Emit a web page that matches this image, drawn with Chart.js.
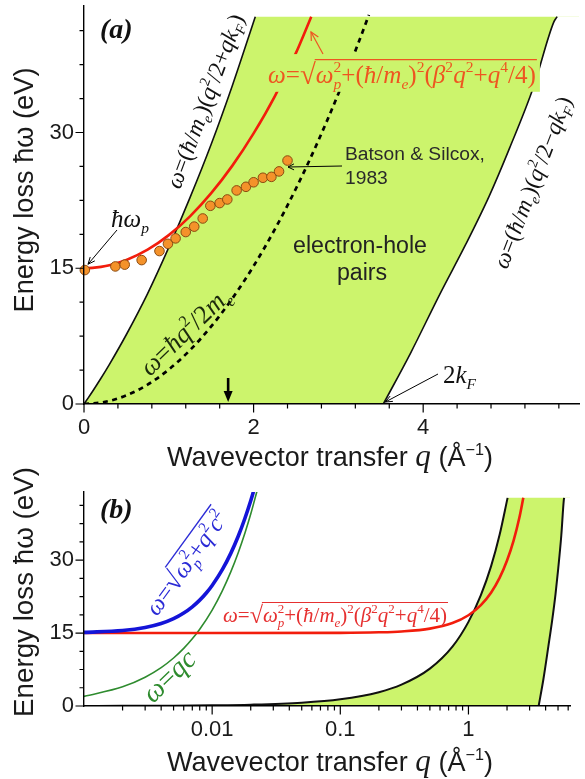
<!DOCTYPE html>
<html><head><meta charset="utf-8">
<script src="https://cdn.jsdelivr.net/npm/chart.js@4.4.1/dist/chart.umd.min.js"></script>
<style>
html,body{margin:0;padding:0;background:#fff;}
#wrap{position:relative;width:585px;height:779px;overflow:hidden;background:#fff;}
canvas{position:absolute;left:0;}
</style></head><body>
<div id="wrap">
<canvas id="ca" width="585" height="475" style="top:0"></canvas>
<canvas id="cb" width="585" height="339" style="top:440px"></canvas>
</div>
<script>
// ---------------- data ----------------
// lower-left edge of the electron-hole continuum  ω=(ħ/m)(q²/2+qkF)
const qPairLeft = [0.001,0.002,0.005,0.01,0.02,0.05,0.1,0.2,0.3,0.5,0.75,1.0,1.25,1.5,1.75,2.02];
const ePairLeft = [0.013,0.027,0.067,0.135,0.27,0.68,1.38,2.84,4.38,7.68,12.2,17.3,22.8,28.7,35.2,42.8];
// right edge of the continuum  ω=(ħ/m)(q²/2−qkF)
const qPairRight = [3.53,3.85,4.2,4.5,4.78,5.02,5.3,5.54,5.58];
const ePairRight = [0,5.6,12.2,17.6,23.0,28.3,35.0,42.2,42.8];
const eContinuumTop = 42.8;
// plasmon dispersion ω=√(ωp²+(ħ/m)²(β²q²+q⁴/4))
const qPlasmon = [0.001,0.01,0.1,0.2,0.3,0.5,0.75,1.0,1.25,1.5,1.75,2.0,2.25,2.5,2.68];
const ePlasmon = [15,15,15.04,15.15,15.33,15.91,17.05,18.66,20.74,23.3,26.34,29.9,34.0,38.8,42.8];
// free electron ω=ħq²/2m (dashed)
const qFree = [0,0.25,0.5,0.75,1.0,1.25,1.5,1.75,2.0,2.25,2.5,2.75,3.0,3.25,3.36];
const eFree = [0,0.24,0.95,2.14,3.81,5.95,8.57,11.67,15.24,19.29,23.81,28.81,34.29,40.24,43.0];
// Batson & Silcox 1983 measurements
const qBatson = [0.01,0.37,0.48,0.68,0.89,0.99,1.08,1.20,1.30,1.40,1.49,1.60,1.69,1.80,1.91,2.00,2.11,2.21,2.30,2.40];
const eBatson = [14.8,15.2,15.4,15.9,16.9,17.7,18.3,19.0,19.6,20.5,21.9,22.2,22.6,23.6,24.0,24.5,25.0,25.1,25.7,26.9];
// panel (b): light-plasmon ω=√(ωp²+q²c²) and light line ω=qc
const qLight = [0.001,0.002,0.003,0.004,0.005,0.006,0.007,0.008,0.009,0.01,0.012,0.014,0.016,0.018,0.02,0.021];
const eLight = [15.13,15.51,16.13,16.95,17.95,19.11,20.39,21.77,23.24,24.78,28.03,31.43,34.95,38.55,42.2,44.06];
const qPhoton = [0.001,0.002,0.003,0.004,0.005,0.006,0.007,0.008,0.01,0.012,0.014,0.016,0.018,0.02,0.0225];
const ePhoton = [1.97,3.95,5.92,7.89,9.87,11.84,13.81,15.78,19.73,23.68,27.62,31.57,35.51,39.46,44.4];
const qMarker = 1.7;
// ticks
const xMajorA = [0,2,4], xMajorLabelsA = ['0','2','4'];
const xMinorA = [0.4,0.8,1.2,1.6,2.4,2.8,3.2,3.6,4.4,4.8,5.2,5.6];
const yMajor = [0,15,30], yMajorLabels = ['0','15','30'];
const yMinor = [3.75,7.5,11.25,18.75,22.5,26.25,33.75,37.5,41.25];
const xMajorB = [0.01,0.1,1], xMajorLabelsB = ['0.01','0.1','1'];
const xMinorB = [0.002,0.003,0.004,0.005,0.006,0.007,0.008,0.009,0.02,0.03,0.04,0.05,0.06,0.07,0.08,0.09,0.2,0.3,0.4,0.5,0.6,0.7,0.8,0.9,2,3,4,5,6];

// ---------------- styling ----------------
const XMAX_A = 5.84, XMIN_B = 0.001, XMAX_B = 6.2, YMAX = 44;
const GREEN = '#ccf46c';
const SANS = '"Liberation Sans", Arial, sans-serif';
const SERIF = '"Liberation Serif", "Times New Roman", serif';

const xy = (xs, ys) => xs.map((x, i) => ({x, y: ys[i]}));

function fontStr(p, size) {
  const fam = p.fam === 'sans' ? SANS : SERIF;
  return (p.it ? 'italic ' : '') + (p.bold ? 'bold ' : '') + (size * (p.rel || 1)).toFixed(2) + 'px ' + fam;
}
function parseMath(s) {
  const out = []; let ov = false; let i = 0;
  const isL = c => /[A-Za-z\u0370-\u03FF\u0127]/.test(c);
  while (i < s.length) {
    const c = s[i];
    if (c === '[') { ov = true; i++; continue; }
    if (c === ']') { ov = false; i++; continue; }
    if (c === '^' || c === '_') {
      i++; let t;
      if (s[i] === '{') { const j = s.indexOf('}', i); t = s.slice(i + 1, j); i = j + 1; } else { t = s[i]; i++; }
      const prev = out[out.length - 1];
      const stack = c === '^' && prev && prev.dy > 0;
      out.push({t, it: isL(t[0]), rel: 0.62, dy: c === '^' ? -0.42 : 0.24, stack, ov});
      continue;
    }
    if (c === '√') { out.push({t: c, rel: 1.15, dy: 0.04, ov: false}); i++; continue; }
    out.push({t: c, it: isL(c), rel: 1, dy: 0, ov}); i++;
  }
  return out;
}
function layoutRich(ctx, parts, size) {
  let x = 0, prevStart = 0, prevW = 0; const items = [];
  for (const p of parts) {
    ctx.font = fontStr(p, size);
    const w = ctx.measureText(p.t).width;
    let px;
    if (p.stack) { px = prevStart; x = prevStart + Math.max(prevW, w); }
    else { px = x; x += w; }
    items.push({p, x: px, w});
    prevStart = px; prevW = w;
  }
  return {items, width: x};
}
function drawRich(ctx, o) {
  let size = o.size || 20;
  if (o.width) { const nat = layoutRich(ctx, o.parts, size).width; size = size * o.width / nat; }
  const L = layoutRich(ctx, o.parts, size);
  ctx.save();
  ctx.translate(o.x, o.y);
  if (o.angle) ctx.rotate(o.angle * Math.PI / 180);
  const x0 = o.align === 'center' ? -L.width / 2 : (o.align === 'right' ? -L.width : 0);
  if (o.box) { ctx.fillStyle = o.box; ctx.fillRect(x0 - 4, -size * 1.15, L.width + 8, size * 1.5); }
  ctx.fillStyle = o.color || '#111'; ctx.strokeStyle = o.color || '#111';
  ctx.textBaseline = 'alphabetic'; ctx.textAlign = 'left';
  let ovS = null, ovE = -1e9;
  for (const it of L.items) {
    ctx.font = fontStr(it.p, size);
    ctx.fillText(it.p.t, x0 + it.x, (it.p.dy || 0) * size);
    if (it.p.ov) { if (ovS === null) ovS = x0 + it.x; ovE = Math.max(ovE, x0 + it.x + it.w); }
  }
  if (ovS !== null) {
    ctx.lineWidth = Math.max(1, size * 0.055);
    ctx.beginPath(); ctx.moveTo(ovS - 1, -size * 0.93); ctx.lineTo(ovE + 1, -size * 0.93); ctx.stroke();
  }
  ctx.restore();
  return size;
}
function arrow(ctx, x1, y1, x2, y2, o = {}) {
  const color = o.color || '#000', head = o.head || 7, hw = o.hw || 3.5;
  const a = Math.atan2(y2 - y1, x2 - x1);
  ctx.save(); ctx.strokeStyle = color; ctx.fillStyle = color; ctx.lineWidth = o.width || 1;
  ctx.beginPath(); ctx.moveTo(x1, y1);
  if (o.filled) ctx.lineTo(x2 - head * 0.7 * Math.cos(a), y2 - head * 0.7 * Math.sin(a)); else ctx.lineTo(x2, y2);
  ctx.stroke();
  const bx = x2 - head * Math.cos(a), by = y2 - head * Math.sin(a);
  ctx.beginPath();
  ctx.moveTo(bx + hw * Math.sin(a), by - hw * Math.cos(a));
  ctx.lineTo(x2, y2);
  ctx.lineTo(bx - hw * Math.sin(a), by + hw * Math.cos(a));
  if (o.filled) { ctx.closePath(); ctx.fill(); } else { ctx.lineWidth = o.headWidth || o.width || 1; ctx.stroke(); }
  ctx.restore();
}
function drawTickMarks(chart, xMaj, xMin, yMaj, yMin) {
  const ctx = chart.ctx, xs = chart.scales.x, ys = chart.scales.y, a = chart.chartArea;
  ctx.save(); ctx.strokeStyle = '#000'; ctx.lineWidth = 1.2; ctx.beginPath();
  const xt = (v, len) => { const p = xs.getPixelForValue(v); ctx.moveTo(p, a.bottom); ctx.lineTo(p, a.bottom + len); };
  const yt = (v, len) => { const p = ys.getPixelForValue(v); ctx.moveTo(a.left, p); ctx.lineTo(a.left - len, p); };
  xMaj.forEach(v => xt(v, 8.5)); xMin.forEach(v => xt(v, 4.5));
  yMaj.forEach(v => yt(v, 8.5)); yMin.forEach(v => yt(v, 4.5));
  ctx.stroke(); ctx.restore();
}
const yTitleParts = [{t: 'Energy loss ħω (eV)', fam: 'sans'}];
const xTitleParts = [{t: 'Wavevector transfer ', fam: 'sans'}, {t: 'q', fam: 'serif', it: true, rel: 1.15},
  {t: ' (Å', fam: 'sans'}, {t: '−1', fam: 'sans', rel: 0.6, dy: -0.42}, {t: ')', fam: 'sans'}];

function scaleBase(extra) {
  return Object.assign({
    z: 1,
    border: {display: true, color: '#000', width: 1.4, z: 1},
    grid: {display: true, drawOnChartArea: false, drawTicks: false},
  }, extra);
}
function tickOpts(labels, padding) {
  return {z: 1, font: {family: SANS, size: 22}, color: '#1a1a1a', autoSkip: false, maxRotation: 0, minRotation: 0,
    padding, callback: (v, i) => labels[i]};
}
function fixSize(prop, val) {
  return s => { s[prop] = val; s.paddingTop = 0; s.paddingBottom = 0; s.paddingLeft = 0; s.paddingRight = 0; };
}
function lineDs(data, o) {
  return Object.assign({data, showLine: true, pointRadius: 0, pointHoverRadius: 0, fill: false,
    cubicInterpolationMode: 'monotone', borderColor: '#000', borderWidth: 1.5}, o);
}
const NONE = 'rgba(0,0,0,0)';
// continuum region: green under the left edge (closed at the top), white under the right edge
function continuumSets(xmax, lw) {
  const top = eContinuumTop;
  return [
    lineDs(xy(qPairLeft, ePairLeft).concat([{x: xmax, y: top}]),
      {borderColor: NONE, borderWidth: 0, fill: 'origin', backgroundColor: GREEN, cubicInterpolationMode: 'default', tension: 0, order: 11}),
    lineDs(xy(qPairRight, ePairRight).concat([{x: xmax, y: top}]),
      {borderColor: NONE, borderWidth: 0, fill: 'origin', backgroundColor: '#ffffff', cubicInterpolationMode: 'default', tension: 0, order: 10}),
    lineDs(xy(qPairLeft, ePairLeft), {borderColor: '#111', borderWidth: lw, order: 9}),
    lineDs(xy(qPairRight, ePairRight), {borderColor: '#111', borderWidth: lw, order: 9})
  ];
}

// ---------------- panel (a) ----------------
const annotA = {
  id: 'annotA',
  afterDatasetsDraw(chart) {
    const ctx = chart.ctx, xs = chart.scales.x, ys = chart.scales.y;
    drawRich(ctx, {x: 100, y: 38, size: 28, parts: [{t: '(a)', it: true, bold: true}], color: '#111'});
    drawRich(ctx, {x: 180, y: 190, angle: -69.5, width: 184, parts: parseMath('ω=(ħ/m_e)(q^2/2+qk_F)'), color: '#111'});
    drawRich(ctx, {x: 268, y: 83, width: 268, parts: parseMath('ω=√[ω_p^2+(ħ/m_e)^2(β^2q^2+q^4/4)]'), color: '#ee5520', box: GREEN});
    arrow(ctx, 323, 54, 311, 32, {color: '#ee5520', width: 1.2, head: 8, hw: 4});
    const bs = drawRich(ctx, {x: 345, y: 160, width: 140, parts: [{t: 'Batson & Silcox,', fam: 'sans'}], color: '#2a2a2a'});
    drawRich(ctx, {x: 345, y: 184, size: bs, parts: [{t: '1983', fam: 'sans'}], color: '#2a2a2a'});
    arrow(ctx, 342, 166, 288, 167, {width: 1, head: 6, hw: 3});
    drawRich(ctx, {x: 111, y: 227, size: 25, parts: parseMath('ħω_p'), color: '#111'});
    arrow(ctx, 117, 230, xs.getPixelForValue(0) + 4, ys.getPixelForValue(15) - 4, {width: 1, head: 7, hw: 3});
    drawRich(ctx, {x: 150, y: 377, angle: -44, width: 114, parts: parseMath('ω=ħq^2/2m_e'), color: '#1c2a0c'});
    const eh = drawRich(ctx, {x: 360, y: 253, width: 134, align: 'center', parts: [{t: 'electron-hole', fam: 'sans'}], color: '#222'});
    drawRich(ctx, {x: 362, y: 280, size: eh, align: 'center', parts: [{t: 'pairs', fam: 'sans'}], color: '#222'});
    drawRich(ctx, {x: 507, y: 270, angle: -69, width: 182, parts: parseMath('ω=(ħ/m_e)(q^2/2−qk_F)'), color: '#111'});
    drawRich(ctx, {x: 443, y: 383, size: 25, parts: parseMath('2k_F'), color: '#111'});
    arrow(ctx, 438, 374, xs.getPixelForValue(qPairRight[0]) + 2, ys.getPixelForValue(0) - 2, {width: 1, head: 7, hw: 3});
    const xm = xs.getPixelForValue(qMarker);
    arrow(ctx, xm, 378, xm, 402, {width: 2.6, head: 11, hw: 4.5, filled: true});
    drawRich(ctx, {x: 33, y: 190, angle: -90, width: 245, align: 'center', parts: yTitleParts, color: '#1a1a1a'});
    drawRich(ctx, {x: 167, y: 466, width: 326, parts: xTitleParts, color: '#1a1a1a'});
  },
  afterDraw(chart) { drawTickMarks(chart, xMajorA, xMinorA, yMajor, yMinor); }
};

new Chart(document.getElementById('ca'), {
  type: 'scatter',
  data: {datasets: continuumSets(XMAX_A, 1.6).concat([
    lineDs(xy(qFree, eFree), {borderColor: '#000', borderWidth: 2.7, borderDash: [5, 4.5], order: 4}),
    lineDs(xy(qPlasmon, ePlasmon), {borderColor: '#f21d0c', borderWidth: 2.6, order: 3}),
    {data: xy(qBatson, eBatson), showLine: false, pointRadius: 4.8, pointHoverRadius: 4.8,
      pointBackgroundColor: '#f4922a', pointBorderColor: '#8a4a10', pointBorderWidth: 1, clip: false, order: 0}
  ])},
  options: {
    responsive: false, animation: false, devicePixelRatio: 1,
    layout: {padding: {top: 3, right: 1, left: 0, bottom: 0}},
    plugins: {legend: {display: false}, tooltip: {enabled: false}},
    events: [],
    scales: {
      x: scaleBase({type: 'linear', position: 'bottom', min: 0, max: XMAX_A,
        ticks: tickOpts(xMajorLabelsA, 11),
        afterBuildTicks: s => { s.ticks = xMajorA.map(v => ({value: v})); },
        afterFit: fixSize('height', 71)}),
      y: scaleBase({type: 'linear', position: 'left', min: 0, max: YMAX,
        ticks: tickOpts(yMajorLabels, 10),
        afterBuildTicks: s => { s.ticks = yMajor.map(v => ({value: v})); },
        afterFit: fixSize('width', 84)})
    }
  },
  plugins: [annotA]
});

// ---------------- panel (b) ----------------
const annotB = {
  id: 'annotB',
  afterDatasetsDraw(chart) {
    const ctx = chart.ctx;
    drawRich(ctx, {x: 100, y: 78, size: 28, parts: [{t: '(b)', it: true, bold: true}], color: '#111'});
    drawRich(ctx, {x: 157, y: 177, angle: -54, width: 122, parts: parseMath('ω=√[ω_p^2+q^2c^2]'), color: '#2b2bd6'});
    drawRich(ctx, {x: 153, y: 264, angle: -44, width: 62, parts: parseMath('ω=qc'), color: '#2e8b2e'});
    drawRich(ctx, {x: 223, y: 182, width: 224, parts: parseMath('ω=√[ω_p^2+(ħ/m_e)^2(β^2q^2+q^4/4)]'), color: '#e63030'});
    drawRich(ctx, {x: 33, y: 152, angle: -90, width: 250, align: 'center', parts: yTitleParts, color: '#1a1a1a'});
    drawRich(ctx, {x: 167, y: 331, width: 326, parts: xTitleParts, color: '#1a1a1a'});
  },
  afterDraw(chart) { drawTickMarks(chart, xMajorB, xMinorB, yMajor, yMinor); }
};

new Chart(document.getElementById('cb'), {
  type: 'scatter',
  data: {datasets: continuumSets(XMAX_B, 2).concat([
    lineDs(xy(qPhoton, ePhoton), {borderColor: '#2e8b2e', borderWidth: 1.6, order: 4}),
    lineDs(xy(qPlasmon, ePlasmon), {borderColor: '#f21d0c', borderWidth: 2.6, order: 3}),
    lineDs(xy(qLight, eLight), {borderColor: '#1414d8', borderWidth: 3.6, order: 2})
  ])},
  options: {
    responsive: false, animation: false, devicePixelRatio: 1,
    layout: {padding: {top: 52, right: 15, left: 0, bottom: 0}},
    plugins: {legend: {display: false}, tooltip: {enabled: false}},
    events: [],
    scales: {
      x: scaleBase({type: 'logarithmic', position: 'bottom', min: XMIN_B, max: XMAX_B,
        ticks: tickOpts(xMajorLabelsB, 11),
        afterBuildTicks: s => { s.ticks = xMajorB.map(v => ({value: v})); },
        afterFit: fixSize('height', 73)}),
      y: scaleBase({type: 'linear', position: 'left', min: 0, max: YMAX,
        ticks: tickOpts(yMajorLabels, 10),
        afterBuildTicks: s => { s.ticks = yMajor.map(v => ({value: v})); },
        afterFit: fixSize('width', 84)})
    }
  },
  plugins: [annotB]
});
</script>
</body></html>
